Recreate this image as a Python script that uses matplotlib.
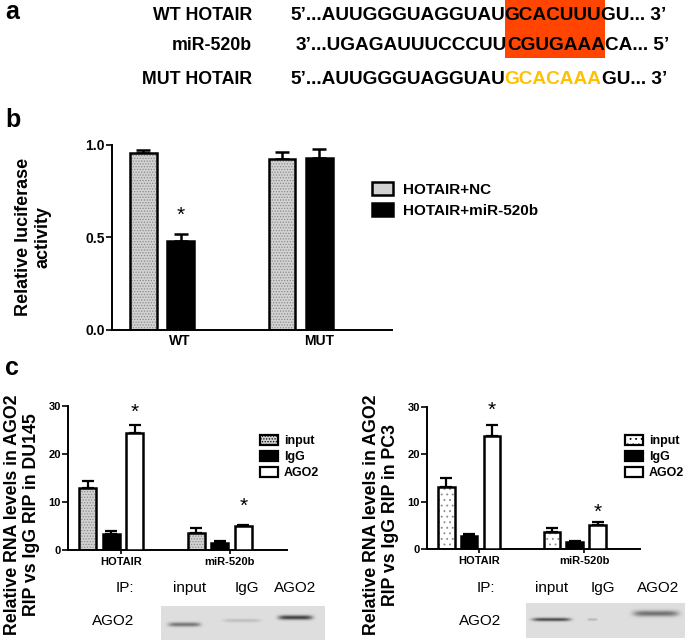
import numpy as np
import matplotlib
matplotlib.use("Agg")
import matplotlib.pyplot as plt
from matplotlib.patches import Rectangle, Patch

plt.rcParams['font.family'] = ['Liberation Sans', 'DejaVu Sans']
plt.rcParams['font.weight'] = 'bold'
plt.rcParams['hatch.linewidth'] = 0.6

W, H = 685, 642

# panel a: sequences
seq_labels = ["WT HOTAIR", "miR-520b", "MUT HOTAIR"]
seq_parts = [
    [("5\u2019...AUUGGGUAGGUAU", "black"), ("GCACUUU", "black"), ("GU... 3\u2019", "black")],
    [("3\u2019...UGAGAUUUCCCUU", "black"), ("CGUGAAA", "black"), ("CA... 5\u2019", "black")],
    [("5\u2019...AUUGGGUAGGUAU", "black"), ("GCACAAA", "#ffc000"), ("GU... 3\u2019", "black")],
]

# panel b: luciferase
b_groups = ["WT", "MUT"]
b_nc = [0.958, 0.924]
b_nc_err = [0.015, 0.040]
b_mir = [0.483, 0.930]
b_mir_err = [0.035, 0.047]
b_legend = ["HOTAIR+NC", "HOTAIR+miR-520b"]

# panel c: RIP
c_groups = ["HOTAIR", "miR-520b"]
c_series = ["input", "IgG", "AGO2"]
du145_vals = [[12.9, 3.5], [3.3, 1.5], [24.4, 4.9]]
du145_err = [[1.5, 1.0], [0.6, 0.3], [1.6, 0.4]]
pc3_vals = [[13.1, 3.6], [2.7, 1.4], [23.9, 5.0]]
pc3_err = [[1.9, 0.8], [0.4, 0.2], [2.4, 0.6]]
blot_lanes = ["input", "IgG", "AGO2"]

fig = plt.figure(figsize=(W / 100, H / 100), dpi=100)


def px_axes(x0, y0, x1, y1):
    return fig.add_axes([x0 / W, 1 - y1 / H, (x1 - x0) / W, (y1 - y0) / H])


def ftext(x, y, s, **kw):
    return fig.text(x / W, 1 - y / H, s, **kw)


def hatched_bar(ax, x, h, width, face, hatch, hcolor):
    ax.bar(x, h, width, color=face, edgecolor=hcolor, hatch=hatch, linewidth=0, zorder=2)
    ax.bar(x, h, width, fill=False, edgecolor="black", linewidth=1.8, zorder=3)


def style_axes(ax, size):
    for s in ["top", "right"]:
        ax.spines[s].set_visible(False)
    ax.spines["left"].set_linewidth(1.4)
    ax.spines["bottom"].set_linewidth(1.4)
    ax.tick_params(axis="y", length=4, width=1.2, labelsize=size, pad=1)
    for lab in ax.get_yticklabels():
        lab.set_fontweight("bold")


# ---- panel letters
ftext(5, 12, "a", fontsize=18, va="center")
ftext(5, 120, "b", fontsize=18, va="center")
ftext(5, 368, "c", fontsize=18, va="center")

# ---- panel a
renderer = fig.canvas.get_renderer()
rows_y = [15, 45, 79]
starts = [290, 296, 290]
box_x = []
for lab, parts, y, x in zip(seq_labels, seq_parts, rows_y, starts):
    ftext(252, y, lab, fontsize=12.8, ha="right", va="center")
    for i, (s, col) in enumerate(parts):
        t = ftext(x, y, s, fontsize=13.7, color=col, va="center", zorder=3)
        bb = t.get_window_extent(renderer)
        if i == 1 and col == "black":
            box_x += [bb.x0, bb.x1]
        x = bb.x1
fig.add_artist(Rectangle((min(box_x) / W, 1 - 58 / H), (max(box_x) - min(box_x)) / W, 58 / H,
                         transform=fig.transFigure, facecolor="#ff4500", edgecolor="none", zorder=1))

# ---- panel b
axb = px_axes(112, 145, 392, 330)
gx = np.arange(len(b_groups))
off, bw = 0.135, 0.194
hatched_bar(axb, gx - off, b_nc, bw, "#d2d2d2", "......", "#8a8a8a")
axb.bar(gx + off, b_mir, bw, color="black", edgecolor="black", linewidth=1.8, zorder=3)
axb.errorbar(gx - off, b_nc, yerr=[np.zeros(2), b_nc_err], fmt="none", ecolor="black",
             elinewidth=1.8, capsize=5, capthick=1.8, zorder=1)
axb.errorbar(gx + off, b_mir, yerr=[np.zeros(2), b_mir_err], fmt="none", ecolor="black",
             elinewidth=1.8, capsize=5, capthick=1.8, zorder=1)
axb.text(gx[0] + off, 0.62, "*", ha="center", va="center", fontsize=15, fontweight="normal")
axb.set_xlim(-0.362, 1.659)
axb.set_ylim(0, 1.0)
axb.set_yticks([0.0, 0.5, 1.0])
axb.set_yticklabels(["0.0", "0.5", "1.0"])
axb.set_xticks(gx + 0.13)
axb.set_xticklabels(b_groups, fontsize=10, fontweight="bold")
axb.tick_params(axis="x", length=0, pad=3)
style_axes(axb, 10)
handles = [Patch(facecolor="#d2d2d2", edgecolor="black", linewidth=1.8),
           Patch(facecolor="black", edgecolor="black", linewidth=1.8)]
fig.legend(handles, b_legend, loc="center left", bbox_to_anchor=(372 / W, 1 - 200 / H),
           frameon=False, fontsize=11, handlelength=1.4, handleheight=0.9, borderpad=0,
           borderaxespad=0, labelspacing=0.45, handletextpad=0.6)
ftext(33, 237, "Relative luciferase\nactivity", fontsize=13, rotation=90, ha="center",
      va="center", multialignment="center")


# ---- panel c
def rip_panel(box, vals, errs, input_face, input_hatch, stars, leg_xy, ylabel, ylab_xy):
    ax = px_axes(*box)
    gx = np.arange(len(c_groups))
    off, bw = 0.217, 0.156
    hatched_bar(ax, gx - off, vals[0], bw, input_face, input_hatch, "#8a8a8a")
    ax.bar(gx, vals[1], bw, color="black", edgecolor="black", linewidth=1.8, zorder=3)
    ax.bar(gx + off, vals[2], bw, color="white", edgecolor="black", linewidth=1.8, zorder=3)
    for k, dx in enumerate([-off, 0, off]):
        ax.errorbar(gx + dx, vals[k], yerr=[np.zeros(2), errs[k]], fmt="none", ecolor="black",
                    elinewidth=1.6, capsize=4, capthick=1.6, zorder=1)
    for j, sy in enumerate(stars):
        ax.text(gx[j] + off, sy, "*", ha="center", va="center", fontsize=15, fontweight="normal")
    ax.set_xlim(-0.40, 1.62)
    ax.set_ylim(0, 30)
    ax.set_yticks([0, 10, 20, 30])
    ax.set_xticks(gx + 0.09)
    ax.set_xticklabels(c_groups, fontsize=8, fontweight="bold")
    ax.tick_params(axis="x", length=3, width=1.2, pad=2)
    style_axes(ax, 8)
    hs = [Patch(facecolor=input_face, edgecolor="black", linewidth=1.6, hatch=input_hatch),
          Patch(facecolor="black", edgecolor="black", linewidth=1.6),
          Patch(facecolor="white", edgecolor="black", linewidth=1.6)]
    fig.legend(hs, c_series, loc="center left", bbox_to_anchor=(leg_xy[0] / W, 1 - leg_xy[1] / H),
               frameon=False, fontsize=9, handlelength=1.4, handleheight=0.9, borderpad=0,
               borderaxespad=0, labelspacing=0.3, handletextpad=0.5)
    ftext(ylab_xy[0], ylab_xy[1], ylabel, fontsize=12.8, rotation=90, ha="center",
          va="center", multialignment="center")
    return ax


rip_panel((68, 406, 287, 550), du145_vals, du145_err, "#d2d2d2", "......", [28.7, 9.2],
          (260, 457), "Relative RNA levels in AGO2\nRIP vs IgG RIP in DU145", (22, 515))
rip_panel((427, 407, 640, 549), pc3_vals, pc3_err, "white", "...", [29.4, 7.8],
          (625, 457), "Relative RNA levels in AGO2\nRIP vs IgG RIP in PC3", (381, 515))


# ---- western blots
def blot(box, ip_x, lane_x, ab_x, bands):
    x0, y0, x1, y1 = box
    ax = px_axes(x0, y0, x1, y1)
    xs = np.arange(x0, x1)[None, :]
    ys = np.arange(y0, y1)[:, None]
    img = np.full((y1 - y0, x1 - x0), 0.87)
    for bx0, bx1, by, dark, thick in bands:
        cx, hw = (bx0 + bx1) / 2, (bx1 - bx0) / 2
        prof = np.exp(-((xs - cx) / hw) ** 6) * np.exp(-((ys - by) / thick) ** 2)
        img -= dark * prof
    ax.imshow(img, cmap="gray", vmin=0, vmax=1, aspect="auto", interpolation="bilinear")
    ax.axis("off")
    ftext(ip_x, 588, "IP:", fontsize=11, fontweight="normal", ha="right", va="center")
    for lx, lab in zip(lane_x, blot_lanes):
        ftext(lx, 588, lab, fontsize=11, fontweight="normal", ha="center", va="center")
    ftext(ab_x, 621, "AGO2", fontsize=11, fontweight="normal", ha="center", va="center")


blot((161, 606, 325, 640), 134, [190, 247, 295], 113,
     [(168, 200, 624, 0.40, 2.2), (223, 260, 620, 0.12, 1.8), (278, 312, 617, 0.60, 2.3)])
blot((526, 603, 685, 638), 495, [552, 603, 658], 480,
     [(532, 570, 619, 0.55, 1.8), (587, 597, 619, 0.15, 1.3), (633, 678, 613, 0.42, 3.0)])

fig.savefig("out.png", dpi=100)
